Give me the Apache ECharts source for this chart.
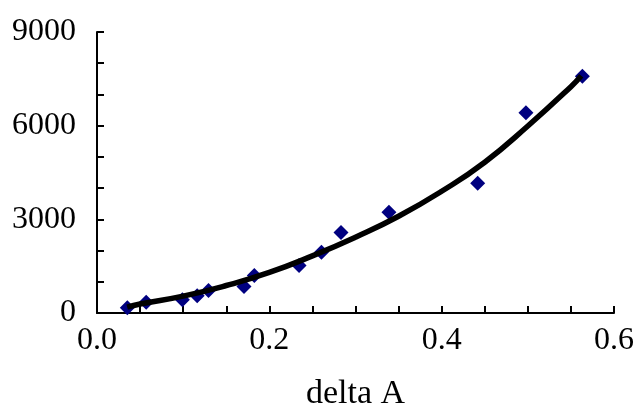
<!DOCTYPE html>
<html>
<head>
<meta charset="utf-8">
<script src="https://cdn.jsdelivr.net/npm/echarts@6/dist/echarts.min.js"></script>
<style>
  html, body { margin: 0; padding: 0; background: #fff; }
  #chart { width: 642px; height: 418px; }
</style>
</head>
<body>
<div id="chart"></div>
<script>
// measured points (delta A, value)
const deltaA = [0.0352, 0.0571, 0.0991, 0.1163, 0.1294, 0.1706, 0.1826, 0.2345, 0.2605, 0.2832, 0.3388, 0.4418, 0.4978, 0.5633]
const values = [170, 341, 426, 554, 724, 852, 1203, 1523, 1949, 2577, 3227, 4153, 6411, 7582]

// trend line
const trendX = [0.035, 0.05, 0.1, 0.15, 0.2, 0.25, 0.3, 0.35, 0.4, 0.45, 0.5, 0.55, 0.562]
const trendY = [190, 290, 540, 880, 1300, 1830, 2430, 3100, 3900, 4830, 5990, 7250, 7600]

const xTicks = [0, 0.6, 0.2]
const yTicks = [0, 9000, 3000]

const chart = echarts.init(document.getElementById('chart'))

const axisFont = {
  color: '#000',
  fontFamily: 'Liberation Serif',
  fontSize: 32
}
const blackLine = { color: '#000', width: 2 }

const option = {
  animation: false,
  grid: {
    left: 97,
    right: 28,
    top: 32,
    bottom: 105
  },
  xAxis: {
    type: 'value',
    min: xTicks[0],
    max: xTicks[1],
    interval: xTicks[2],
    name: 'delta A',
    nameLocation: 'middle',
    nameGap: 64,
    nameTextStyle: Object.assign({}, axisFont, { fontSize: 34 }),
    axisLine: { show: true, lineStyle: blackLine },
    axisTick: { show: true, inside: true, length: 7, lineStyle: blackLine },
    minorTick: { show: true, splitNumber: 4, length: 7, lineStyle: blackLine },
    splitLine: { show: false },
    axisLabel: Object.assign({ margin: 12, formatter: v => v.toFixed(1) }, axisFont)
  },
  yAxis: {
    type: 'value',
    min: yTicks[0],
    max: yTicks[1],
    interval: yTicks[2],
    axisLine: { show: true, lineStyle: blackLine },
    axisTick: { show: true, inside: true, length: 7, lineStyle: blackLine },
    minorTick: { show: true, splitNumber: 3, length: 7, lineStyle: blackLine },
    splitLine: { show: false },
    axisLabel: Object.assign({ margin: 21, formatter: v => String(v) }, axisFont)
  },
  series: [
    {
      type: 'scatter',
      symbol: 'diamond',
      symbolSize: 15,
      itemStyle: { color: '#000080', opacity: 1 },
      data: deltaA.map((x, i) => [x, values[i]]),
      z: 2
    },
    {
      type: 'line',
      smooth: true,
      showSymbol: false,
      lineStyle: { color: '#000', width: 5.5 },
      data: trendX.map((x, i) => [x, trendY[i]]),
      z: 3
    }
  ]
}

chart.setOption(option)
</script>
</body>
</html>
